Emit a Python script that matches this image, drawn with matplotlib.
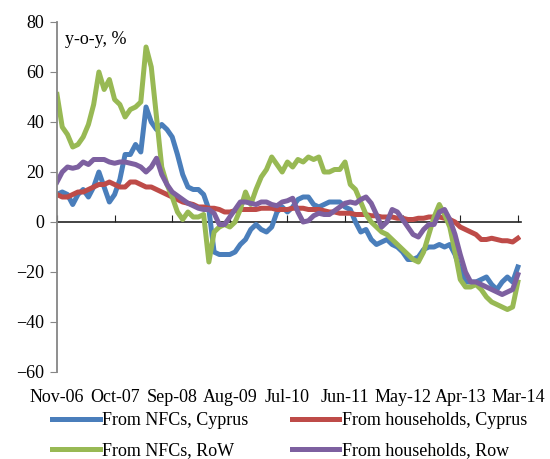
import numpy as np
import matplotlib
matplotlib.use("Agg")
import matplotlib.pyplot as plt

plt.rcParams['font.family'] = ['Liberation Serif', 'DejaVu Serif']

# monthly data, Nov-06 .. Mar-14 (y-o-y, %)
nfc_cy = [11, 12, 11, 7, 11, 13, 10, 14, 20, 14, 8, 11, 17, 27, 27, 31, 28, 46, 40, 37,
          39, 37, 34, 27, 19, 14, 13, 13, 11, 5, -12, -13, -13, -13, -12, -9, -7, -3, -1, -3,
          -4, -2, 4, 6, 4, 6, 9, 10, 10, 7, 6, 7, 8, 8, 8, 6, 5, 0, -4, -3,
          -7, -9, -8, -7, -9, -10, -12, -15, -15, -14, -11, -10, -10, -9, -10, -9, -13, -19, -24, -24,
          -24, -23, -22, -25, -27, -24, -22, -24, -18]
hh_cy = [11, 10, 10, 11, 12, 12, 13, 14, 15, 15, 16, 15, 14, 14, 16, 16, 15, 14, 14, 13,
         12, 11, 10, 9, 8, 7.5, 7, 6, 6, 5.5, 5.5, 5, 4, 4, 4.5, 5, 5, 5, 5, 5.5,
         5.5, 5.5, 5, 5, 5, 5.5, 5.5, 5.5, 5, 5, 5, 4.5, 4, 4, 3.5, 3.5, 3.5, 3, 3, 3,
         2.5, 2.5, 2, 2, 2, 1.5, 1.5, 1, 1, 1.5, 1.5, 2, 2, 2, 1.5, 1, 0, -2, -3, -4,
         -5, -7, -7, -6.5, -7, -7.5, -7.5, -8, -6.5]
nfc_row = [51, 38, 35, 30, 31, 34, 39, 47, 60, 53, 57, 49, 47, 42, 45, 46, 48, 70, 62, 42,
           22, 15, 10, 4, 1, 4, 2, 2, 3, -16, -4, -2, -1, -2, 0, 5, 12, 7, 13, 18,
           21, 26, 23, 20, 24, 22, 25, 24, 26, 25, 26, 20, 20, 21, 21, 24, 15, 13, 8, 3,
           0, -2, -4, -5, -7, -9, -11, -13, -15, -16, -12, -5, 2, 7, 3, -2, -12, -23, -26, -26,
           -25, -27, -30, -32, -33, -34, -35, -34, -24]
hh_row = [16, 20, 22, 21.5, 22, 24, 23, 25, 25, 25, 24, 23.5, 24, 24, 23.5, 23, 22, 20, 22, 25.5,
          19, 15, 12, 10.5, 9, 7.5, 6.5, 5.5, 5, 5, 3.5, -1, -1, 2, 5, 8, 8, 7.5, 7, 8,
          8, 7, 6.5, 8, 8.5, 9.5, 4, 0, 0.5, 2.5, 3.5, 3, 3, 4.5, 6, 7.5, 8, 7.5, 9, 10,
          7.5, 3, -2, 0, 5, 4, 1, -2, -5, -6, -3, -1, -1, 4, 5, 1, -5, -13, -20, -24,
          -24, -25, -26, -27, -28, -29, -28, -27, -21]
tick_pos = [0, 11, 22, 33, 44, 55, 66, 77, 88]
tick_labels = ['Nov-06', 'Oct-07', 'Sep-08', 'Aug-09', 'Jul-10', 'Jun-11', 'May-12', 'Apr-13', 'Mar-14']

months = np.arange(len(nfc_cy))
fs = 13

fig = plt.figure(figsize=(5.5, 4.59), dpi=100)
ax = fig.add_axes([57/550, 1 - 372/459, 464/550, 350/459])

lw = 3.6
l1, = ax.plot(months, nfc_cy, color='#4A7EBB', lw=lw, label='From NFCs, Cyprus')
l2, = ax.plot(months, hh_cy, color='#BE4B48', lw=lw, label='From households, Cyprus')
l3, = ax.plot(months, nfc_row, color='#98B954', lw=lw, label='From NFCs, RoW')
l4, = ax.plot(months, hh_row, color='#7D60A0', lw=lw, label='From households, Row')

ax.set_ylim(-60, 80)
ax.set_yticks(range(-60, 81, 20))
ax.set_xlim(0, 88.6)
ax.set_xticks(tick_pos)
ax.set_xticklabels(tick_labels)

for s in ['top', 'right', 'bottom']:
    ax.spines[s].set_visible(False)
ax.spines['left'].set_color('#868686')
ax.spines['left'].set_linewidth(1.3)
ax.tick_params(axis='y', direction='out', length=5, color='#868686', labelsize=fs, pad=4)
ax.tick_params(axis='x', length=0, labelsize=fs, pad=12)

# zero line with tick marks pointing up
zax = ax.secondary_xaxis(60/140)
zax.set_xticks(tick_pos)
zax.set_xticklabels([])
zax.spines['bottom'].set_color('#222222')
zax.spines['bottom'].set_linewidth(1.2)
zax.tick_params(axis='x', direction='in', length=5, color='#222222')

ax.text(0.018, 0.975, 'y-o-y, %', transform=ax.transAxes, fontsize=fs, va='top', ha='left')

fig.legend(handles=[l1, l3, l2, l4], ncol=2, loc='upper left', bbox_to_anchor=(52/550, 1 - 412/459),
           frameon=False, fontsize=fs, handlelength=2.65, handletextpad=0.12, columnspacing=2.4,
           labelspacing=0.75, borderpad=0, borderaxespad=0)

fig.savefig('out.png', dpi=100)
